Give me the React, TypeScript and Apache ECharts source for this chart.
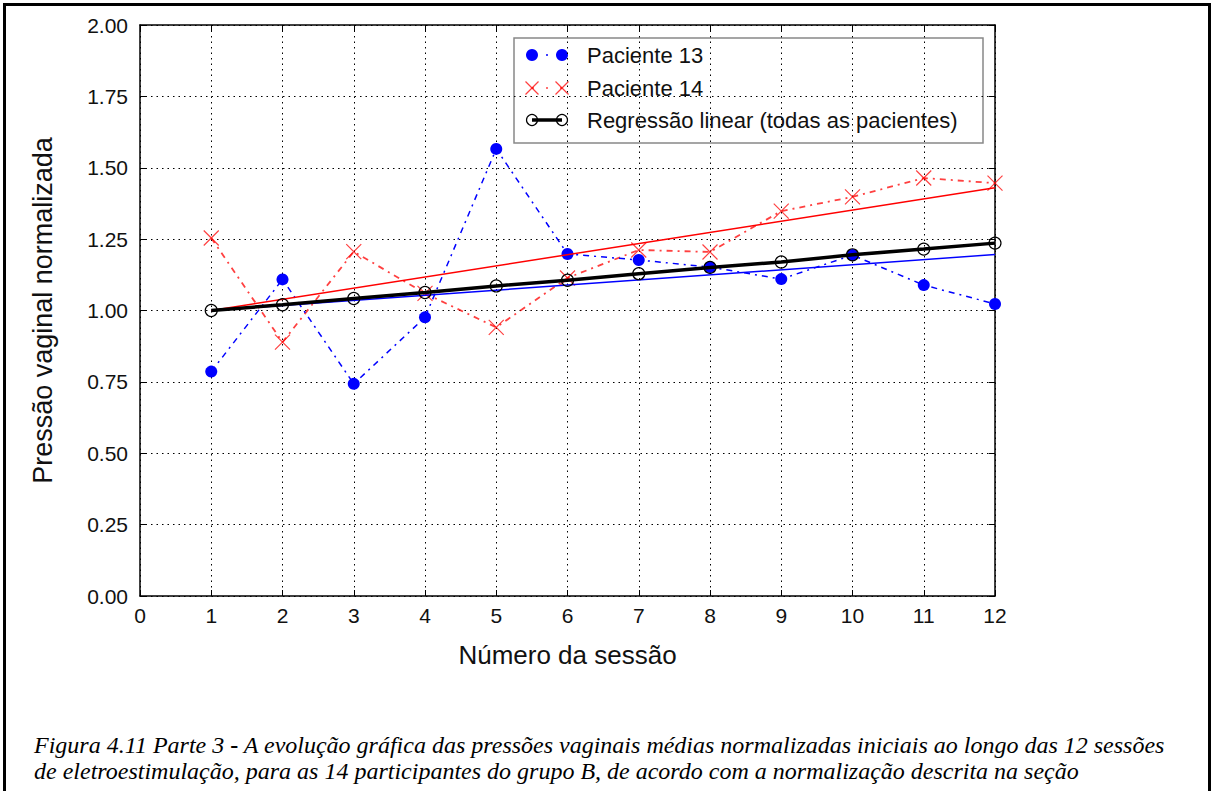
import React, { useEffect, useRef } from "react";
import * as echarts from "echarts";

const sessions = [1, 2, 3, 4, 5, 6, 7, 8, 9, 10, 11, 12];
const paciente13 = [0.786, 1.109, 0.743, 0.976, 1.566, 1.198, 1.177, 1.152, 1.110, 1.194, 1.089, 1.023];
const paciente14 = [1.254, 0.889, 1.206, 1.060, 0.941, 1.114, 1.212, 1.205, 1.348, 1.398, 1.464, 1.446];
const regressaoTodas = [1.000, 1.020, 1.042, 1.063, 1.086, 1.106, 1.129, 1.151, 1.170, 1.195, 1.215, 1.236];
const regressao13Ends = [[1, 1.0], [12, 1.196]];
const regressao14Ends = [[1, 1.0], [12, 1.430]];
const xTicks = [0, 1, 2, 3, 4, 5, 6, 7, 8, 9, 10, 11, 12];
const yTicks = [0, 0.25, 0.5, 0.75, 1.0, 1.25, 1.5, 1.75, 2.0];
const legendNames = ["Paciente 13", "Paciente 14", "Regressão linear (todas as pacientes)"];
const yAxisTitle = "Pressão vaginal normalizada";
const xAxisTitle = "Número da sessão";
const captionLine1a = "Figura 4.11 Parte 3 ";
const captionLine1b = " A evolução gráfica das pressões vaginais médias normalizadas iniciais ao longo das 12 sessões";
const captionLine2 = "de eletroestimulação, para as 14 participantes do grupo B, de acordo com a normalização descrita na seção";

const SANS = '"Liberation Sans", Arial, Helvetica, sans-serif';
const SERIF = '"Liberation Serif", "Times New Roman", serif';
const BLUE = "#0000ff";
const RED = "#ff0000";
const RED_SOFT = "rgba(255,0,0,0.75)";
const X_PATH = "path://M0,0L10,10M10,0L0,10";

export default function App() {
  const ref = useRef<HTMLDivElement>(null);

  useEffect(() => {
    if (!ref.current) return;
    const chart = echarts.init(ref.current, null, { renderer: "svg" });

    const pair = (vals: number[]) => sessions.map((s, i) => [s, vals[i]]);

    const gridLine = { show: true, lineStyle: { type: [1.5, 4], color: "#000", width: 1 } };
    const axisLine = { show: true, onZero: false, lineStyle: { color: "#000", width: 1.5 } };
    const tick = { show: true, inside: true, length: 6, lineStyle: { color: "#000", width: 1 } };

    const lx1 = 532, lx2 = 562, ly = [55, 88, 120];

    const option: any = {
      animation: false,
      backgroundColor: "#fff",
      grid: { left: 140, top: 25, right: 219, bottom: 195, containLabel: false },
      xAxis: [
        {
          type: "value", min: xTicks[0], max: xTicks[xTicks.length - 1], interval: 1,
          axisLine, axisTick: tick, splitLine: gridLine,
          axisLabel: { fontFamily: SANS, fontSize: 21, color: "#111", margin: 9 },
          name: xAxisTitle, nameLocation: "middle", nameGap: 46,
          nameTextStyle: { fontFamily: SANS, fontSize: 26, color: "#111", verticalAlign: "top" },
        },
        {
          type: "value", position: "top", min: xTicks[0], max: xTicks[xTicks.length - 1], interval: 1,
          axisLine, axisTick: tick, splitLine: { show: false }, axisLabel: { show: false },
        },
      ],
      yAxis: [
        {
          type: "value", min: yTicks[0], max: yTicks[yTicks.length - 1], interval: 0.25,
          axisLine, axisTick: tick, splitLine: gridLine,
          axisLabel: { fontFamily: SANS, fontSize: 21, color: "#111", margin: 12, formatter: (v: number) => v.toFixed(2) },
          name: yAxisTitle, nameLocation: "middle", nameGap: 84, nameRotate: 90,
          nameTextStyle: { fontFamily: SANS, fontSize: 27, color: "#111" },
        },
        {
          type: "value", position: "right", min: yTicks[0], max: yTicks[yTicks.length - 1], interval: 0.25,
          axisLine, axisTick: tick, splitLine: { show: false }, axisLabel: { show: false },
        },
      ],
      series: [
        {
          name: legendNames[1], type: "line", data: pair(paciente14), z: 2,
          symbol: X_PATH, symbolSize: 15,
          itemStyle: { color: "transparent", borderColor: RED_SOFT, borderWidth: 1.2 },
          lineStyle: { color: RED_SOFT, width: 1.8, type: [6, 5, 2, 5] },
        },
        {
          name: legendNames[0], type: "line", data: pair(paciente13), z: 3,
          symbol: "circle", symbolSize: 12,
          itemStyle: { color: BLUE, borderWidth: 0 },
          lineStyle: { color: BLUE, width: 1.5, type: [6, 5, 2, 5] },
        },
        {
          name: "reg13", type: "line", data: regressao13Ends, z: 4, symbol: "none",
          lineStyle: { color: BLUE, width: 1.5 },
        },
        {
          name: "reg14", type: "line", data: regressao14Ends, z: 4, symbol: "none",
          lineStyle: { color: RED, width: 1.5 },
        },
        {
          name: legendNames[2], type: "line", data: pair(regressaoTodas), z: 5,
          symbol: "circle", symbolSize: 12,
          itemStyle: { color: "transparent", borderColor: "#000", borderWidth: 1.2 },
          lineStyle: { color: "#000", width: 3.5 },
        },
      ],
      graphic: [
        {
          type: "rect", z: 100, silent: true,
          shape: { x: 4.5, y: 4.5, width: 1205, height: 830 },
          style: { fill: "none", stroke: "#000", lineWidth: 3 },
        },
        {
          type: "group", z: 100,
          children: [
            { type: "rect", shape: { x: 514, y: 38, width: 469, height: 105 }, style: { fill: "#fff", stroke: "#888", lineWidth: 1.5 } },
            { type: "line", shape: { x1: lx1, y1: ly[0], x2: lx2, y2: ly[0] }, style: { stroke: BLUE, lineWidth: 1.5, lineDash: [2, 12], lineDashOffset: -14 } },
            { type: "circle", shape: { cx: lx1, cy: ly[0], r: 6 }, style: { fill: BLUE } },
            { type: "circle", shape: { cx: lx2, cy: ly[0], r: 6 }, style: { fill: BLUE } },
            { type: "text", style: { text: legendNames[0], x: 587, y: ly[0], verticalAlign: "middle", font: `22px ${SANS}`, fill: "#111" } },
            { type: "line", shape: { x1: lx1, y1: ly[1], x2: lx2, y2: ly[1] }, style: { stroke: RED_SOFT, lineWidth: 1.5, lineDash: [2, 12], lineDashOffset: -14 } },
            { type: "line", shape: { x1: lx1 - 6.5, y1: ly[1] - 6.5, x2: lx1 + 6.5, y2: ly[1] + 6.5 }, style: { stroke: RED_SOFT, lineWidth: 1.2 } },
            { type: "line", shape: { x1: lx1 - 6.5, y1: ly[1] + 6.5, x2: lx1 + 6.5, y2: ly[1] - 6.5 }, style: { stroke: RED_SOFT, lineWidth: 1.2 } },
            { type: "line", shape: { x1: lx2 - 6.5, y1: ly[1] - 6.5, x2: lx2 + 6.5, y2: ly[1] + 6.5 }, style: { stroke: RED_SOFT, lineWidth: 1.2 } },
            { type: "line", shape: { x1: lx2 - 6.5, y1: ly[1] + 6.5, x2: lx2 + 6.5, y2: ly[1] - 6.5 }, style: { stroke: RED_SOFT, lineWidth: 1.2 } },
            { type: "text", style: { text: legendNames[1], x: 587, y: ly[1], verticalAlign: "middle", font: `22px ${SANS}`, fill: "#111" } },
            { type: "line", shape: { x1: lx1, y1: ly[2], x2: lx2, y2: ly[2] }, style: { stroke: "#000", lineWidth: 3.5 } },
            { type: "circle", shape: { cx: lx1, cy: ly[2], r: 5.5 }, style: { fill: "transparent", stroke: "#000", lineWidth: 1.2 } },
            { type: "circle", shape: { cx: lx2, cy: ly[2], r: 5.5 }, style: { fill: "transparent", stroke: "#000", lineWidth: 1.2 } },
            { type: "text", style: { text: legendNames[2], x: 587, y: ly[2], verticalAlign: "middle", font: `22px ${SANS}`, fill: "#111" } },
          ],
        },
        {
          type: "text", z: 100,
          style: {
            x: 34, y: 745, verticalAlign: "middle",
            text: `{i|${captionLine1a}}{b|-}{i|${captionLine1b}}`,
            rich: {
              i: { fontFamily: SERIF, fontStyle: "italic", fontSize: 24, fill: "#000" },
              b: { fontFamily: SERIF, fontWeight: "bold", fontSize: 24, fill: "#000" },
            },
          },
        },
        {
          type: "text", z: 100,
          style: {
            x: 34, y: 771, verticalAlign: "middle",
            text: captionLine2, font: `italic 24px ${SERIF}`, fill: "#000",
          },
        },
      ],
    };

    chart.setOption(option);
    return () => chart.dispose();
  }, []);

  return (
    <div
      ref={ref}
      style={{ position: "fixed", left: 0, top: 0, width: 1214, height: 791, background: "#fff" }}
    />
  );
}
